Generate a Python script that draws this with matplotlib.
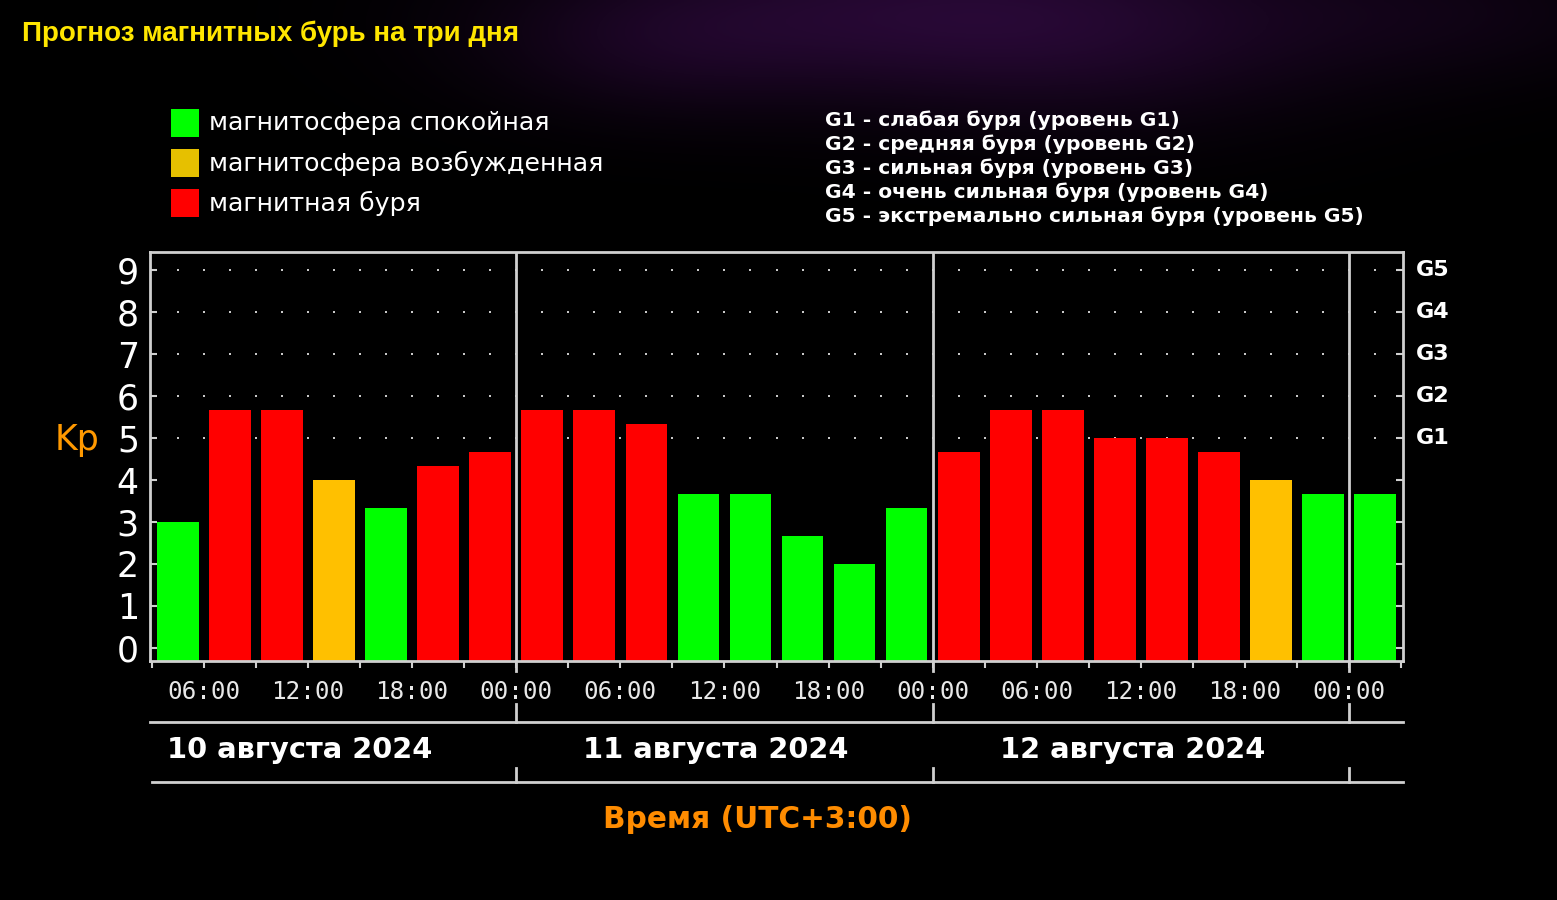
import numpy as np
import matplotlib.pyplot as plt
from matplotlib.patches import Rectangle
from matplotlib.transforms import blended_transform_factory

W, H = 1557, 900

# прогноз Kp по трёхчасовым интервалам, начиная с 03:00 10 августа (UTC+3)
kp = [3.0, 5.67, 5.67, 4.0, 3.33, 4.33, 4.67,
      5.67, 5.67, 5.33, 3.67, 3.67, 2.67, 2.0, 3.33,
      4.67, 5.67, 5.67, 5.0, 5.0, 4.67, 4.0, 3.67, 3.67]
# 0 - спокойная, 1 - возбужденная, 2 - буря
status = [0, 2, 2, 1, 0, 2, 2,
          2, 2, 2, 0, 0, 0, 0, 0,
          2, 2, 2, 2, 2, 2, 1, 0, 0]
slot_start = np.arange(3, 75, 3)  # часы от 00:00 10 августа

days = ['10 августа 2024', '11 августа 2024', '12 августа 2024']
day_starts = [0, 24, 48, 72]
time_labels = ['06:00', '12:00', '18:00', '00:00'] * 3
time_ticks = np.arange(6, 73, 6)
g_levels = ['G1', 'G2', 'G3', 'G4', 'G5']
g_kp = [5, 6, 7, 8, 9]
g_desc = ['G1 - слабая буря (уровень G1)',
          'G2 - средняя буря (уровень G2)',
          'G3 - сильная буря (уровень G3)',
          'G4 - очень сильная буря (уровень G4)',
          'G5 - экстремально сильная буря (уровень G5)']
legend_labels = ['магнитосфера спокойная', 'магнитосфера возбужденная', 'магнитная буря']

bar_colors = ['#00FF00', '#FFC000', '#FF0000']
legend_colors = ['#00FF00', '#E6C000', '#FF0000']
frame = '#D0D0D0'

fig = plt.figure(figsize=(W / 100, H / 100), dpi=100, facecolor='black')

# фон с фиолетовой туманностью
bg = fig.add_axes([0, 0, 1, 1])
yy, xx = np.mgrid[0:H:3, 0:W:3]
glow = np.zeros(xx.shape)
for cx, cy, sx, sy, a in [(850, 10, 220, 60, 0.45), (1100, 30, 180, 70, 0.35),
                          (650, 50, 120, 50, 0.2), (1450, 10, 150, 50, 0.2)]:
    glow += a * np.exp(-((xx - cx) ** 2 / (2 * sx ** 2) + (yy - cy) ** 2 / (2 * sy ** 2)))
glow = np.clip(glow, 0, 1)
img = np.zeros(xx.shape + (3,))
img[..., 0] = glow * 0.24
img[..., 1] = glow * 0.05
img[..., 2] = glow * 0.32
bg.imshow(img, extent=[0, W, H, 0], aspect='auto', zorder=0)
bg.set_xlim(0, W)
bg.set_ylim(H, 0)
bg.axis('off')

# заголовок
bg.text(22, 34, 'Прогноз магнитных бурь на три дня', color='#FFE600', fontsize=20,
        fontweight='bold', family=['Liberation Sans', 'DejaVu Sans'], va='center', ha='left')

# легенда
for i, (lab, col) in enumerate(zip(legend_labels, legend_colors)):
    y = 123 + 40 * i
    bg.add_patch(Rectangle((171, y - 14), 28, 28, facecolor=col, edgecolor='none'))
    bg.text(209, y, lab, color='white', fontsize=18.2, va='center', ha='left')

for i, t in enumerate(g_desc):
    bg.text(825, 120 + 24 * i, t, color='white', fontsize=14.6, fontweight='bold',
            va='center', ha='left')

# основная область
ax = fig.add_axes([150 / W, 1 - 661 / H, 1253 / W, 409 / H])
ax.set_facecolor('black')
ax.set_xlim(2.9, 75.1)
ax.set_ylim(-0.31, 9.43)

# точечная сетка
gx = np.arange(4.5, 75, 1.5)
GX, GY = np.meshgrid(gx, g_kp)
ax.scatter(GX.ravel(), GY.ravel(), s=4, color='#C8C8C8', marker='s', linewidths=0, zorder=1)

ax.bar(slot_start + 1.5, np.array(kp) + 0.31, bottom=-0.31, width=2.4,
       color=[bar_colors[s] for s in status], edgecolor='none', zorder=2)

for d in day_starts[1:]:
    ax.axvline(d, color=frame, lw=2, zorder=3)

for s in ax.spines.values():
    s.set_color(frame)
    s.set_linewidth(2)

ax.set_yticks(range(10))
ax.set_yticklabels([str(i) for i in range(10)], color='white', fontsize=25)
ax.tick_params(axis='y', direction='in', length=5, width=1.5, color=frame, pad=8,
               right=True)
ax.set_xticks(np.arange(3, 76, 3))
ax.set_xticklabels([])
ax.tick_params(axis='x', direction='out', length=5, width=1.5, color=frame)

# правая шкала G
for g, k in zip(g_levels, g_kp):
    ax.text(1.0105, k, g, transform=blended_transform_factory(ax.transAxes, ax.transData),
            color='white', fontsize=16, fontweight='bold', va='center', ha='left')

ax.text(-0.04, 4.95, 'Kp', transform=blended_transform_factory(ax.transAxes, ax.transData),
        color='#FF9900', fontsize=25, va='center', ha='right')

# нижняя шкала времени
tr = blended_transform_factory(ax.transData, bg.transData)
for t, lab in zip(time_ticks, time_labels):
    ax.text(t, 692, lab, transform=tr, color='#E8E8E8', fontsize=17.5,
            family='DejaVu Sans Mono', va='center', ha='center', clip_on=False)

for d in day_starts[1:]:
    ax.plot([d, d], [661, 671], transform=tr, color=frame, lw=2, clip_on=False)
    ax.plot([d, d], [704, 722], transform=tr, color=frame, lw=2, clip_on=False)
    ax.plot([d, d], [768, 782], transform=tr, color=frame, lw=2, clip_on=False)

ax.plot([2.9, 75.1], [722, 722], transform=tr, color=frame, lw=2, clip_on=False)
ax.plot([3.0, 75.1], [782, 782], transform=tr, color=frame, lw=2, clip_on=False)

for d0, lab in zip(day_starts, days):
    ax.text(d0 + 11.5, 750, lab, transform=tr, color='white', fontsize=20.8,
            fontweight='bold', va='center', ha='center', clip_on=False)

bg.text(757, 820, 'Время (UTC+3:00)', color='#FF8C00', fontsize=21.3, fontweight='bold',
        va='center', ha='center', zorder=5)

fig.savefig('out.png', dpi=100, facecolor='black')
